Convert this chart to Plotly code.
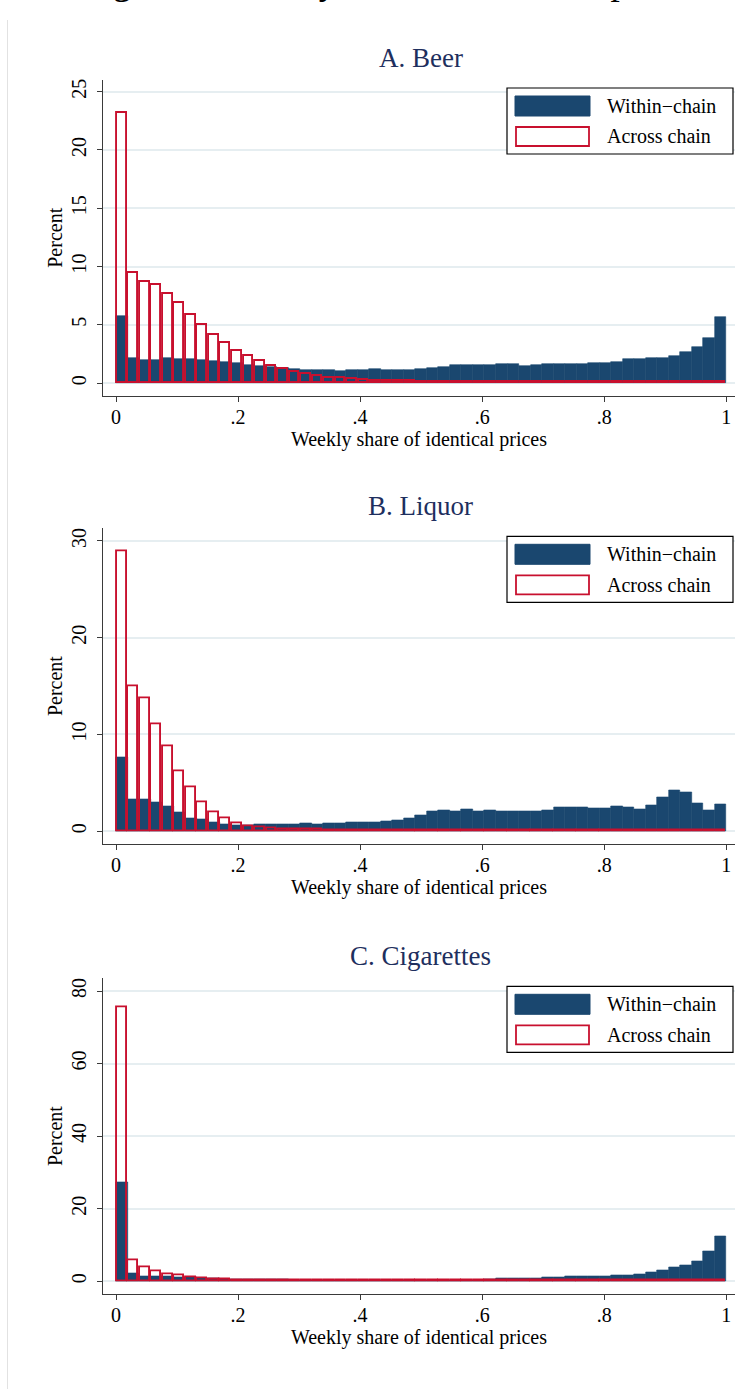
import numpy as np
import plotly.graph_objects as go

# ---------------- data (percent of store pairs per bin, 53 bins on [0,1]) ----------------
NBINS = 53

beer_within = [5.72, 2.17, 2.00, 2.00, 2.17, 2.10, 2.08, 2.00, 1.92, 1.83,
               1.74, 1.58, 1.48, 1.40, 1.32, 1.24, 1.16, 1.12, 1.10, 1.05,
               1.10, 1.12, 1.18, 1.12, 1.16, 1.10, 1.19, 1.28, 1.37, 1.52,
               1.54, 1.54, 1.54, 1.62, 1.63, 1.45, 1.54, 1.62, 1.63, 1.63,
               1.65, 1.72, 1.72, 1.80, 2.05, 2.06, 2.15, 2.16, 2.33, 2.67,
               3.10, 3.90, 5.64]
beer_across = [23.17, 9.48, 8.65, 8.43, 7.65, 6.90, 5.84, 4.95, 4.10, 3.45,
               2.80, 2.35, 1.87, 1.50, 1.20, 0.95, 0.75, 0.60, 0.48, 0.40,
               0.32, 0.26, 0.22, 0.19, 0.17, 0.15, 0.14, 0.14, 0.13, 0.13,
               0.13, 0.12, 0.12, 0.12, 0.12, 0.12, 0.12, 0.11, 0.11, 0.11,
               0.11, 0.11, 0.11, 0.11, 0.11, 0.10, 0.10, 0.10, 0.10, 0.10,
               0.10, 0.10, 0.12]

liquor_within = [7.60, 3.27, 3.27, 3.03, 2.55, 1.93, 1.34, 1.20, 0.90, 0.69,
                 0.62, 0.60, 0.69, 0.69, 0.70, 0.70, 0.79, 0.76, 0.83, 0.80,
                 0.95, 0.96, 0.97, 1.03, 1.14, 1.31, 1.62, 2.03, 2.13, 2.06,
                 2.24, 2.06, 2.13, 2.03, 2.03, 2.05, 2.10, 2.20, 2.44, 2.48,
                 2.44, 2.34, 2.34, 2.55, 2.44, 2.27, 2.65, 3.47, 4.23, 4.00,
                 2.89, 2.20, 2.75]
liquor_across = [28.90, 14.93, 13.69, 11.08, 8.81, 6.19, 4.51, 2.99, 2.00, 1.34,
                 0.86, 0.55, 0.42, 0.32, 0.25, 0.20, 0.17, 0.15, 0.12, 0.11,
                 0.10, 0.10, 0.09, 0.09, 0.09, 0.08, 0.08, 0.08, 0.08, 0.08,
                 0.08, 0.07, 0.07, 0.07, 0.07, 0.07, 0.07, 0.07, 0.07, 0.07,
                 0.07, 0.07, 0.07, 0.07, 0.07, 0.07, 0.07, 0.07, 0.07, 0.07,
                 0.07, 0.07, 0.08]

cig_within = [27.20, 2.10, 1.47, 1.28, 1.28, 1.10, 1.05, 0.80, 0.70, 0.65,
              0.62, 0.62, 0.60, 0.60, 0.40, 0.32, 0.30, 0.30, 0.30, 0.30,
              0.30, 0.30, 0.30, 0.30, 0.30, 0.30, 0.30, 0.30, 0.30, 0.30,
              0.30, 0.30, 0.50, 0.73, 0.73, 0.75, 0.80, 1.00, 1.00, 1.28,
              1.28, 1.28, 1.40, 1.56, 1.56, 1.83, 2.39, 2.94, 3.76, 4.31,
              5.41, 8.17, 12.30]
cig_across = [75.50, 5.70, 3.76, 2.84, 2.00, 1.56, 1.20, 0.75, 0.55, 0.45,
              0.38, 0.32, 0.28, 0.25, 0.22, 0.15, 0.15, 0.14, 0.14, 0.13,
              0.13, 0.13, 0.12, 0.12, 0.12, 0.12, 0.12, 0.12, 0.12, 0.12,
              0.12, 0.12, 0.12, 0.12, 0.12, 0.12, 0.12, 0.12, 0.12, 0.12,
              0.12, 0.12, 0.12, 0.12, 0.12, 0.12, 0.12, 0.12, 0.12, 0.12,
              0.12, 0.12, 0.15]

panel_titles = ["A. Beer", "B. Liquor", "C. Cigarettes"]
series_names = ["Within\u2212chain", "Across chain"]
x_tick_vals = [0, 0.2, 0.4, 0.6, 0.8, 1]
x_tick_text = ["0", ".2", ".4", ".6", ".8", "1"]
y_tick_vals = [[0, 5, 10, 15, 20, 25], [0, 10, 20, 30], [0, 20, 40, 60, 80]]
x_title = "Weekly share of identical prices"
y_title = "Percent"
top_title = "Figure 1: Weekly share of identical prices"

# ---------------- style / layout ----------------
W, H = 735, 1389
NAVY = "#1a476f"
RED = "#c8102e"
TITLE_C = "#1e2f5e"
AXIS_C = "#3a3a3a"
GRID_C = "#e6eef1"
FONT = "Liberation Serif"

y_ranges = [[-1.06, 26.0], [-1.30, 31.3], [-3.47, 83.5]]
x_range = [-0.0213, 1.0143]
panel_tops = [80.0, 528.3, 978.3]     # px from top
panel_h = 315.5
x_left = 103.0


def px(x):
    return x / W


def py(y):
    return 1 - y / H


edges = np.linspace(0, 1, NBINS + 1)
centers = (edges[:-1] + edges[1:]) / 2
bw = 1.0 / NBINS

fig = go.Figure()
within = [beer_within, liquor_within, cig_within]
across = [beer_across, liquor_across, cig_across]

shapes = []
annotations = []
for i in range(3):
    xa = "x" if i == 0 else f"x{i+1}"
    ya = "y" if i == 0 else f"y{i+1}"
    fig.add_trace(go.Bar(
        x=centers, y=within[i], width=bw, name=series_names[0],
        marker=dict(color=NAVY, line=dict(color=NAVY, width=0.6)),
        xaxis=xa, yaxis=ya, showlegend=False))
    fig.add_trace(go.Bar(
        x=centers, y=across[i], width=bw * 0.85, name=series_names[1],
        marker=dict(color="rgba(0,0,0,0)", line=dict(color=RED, width=1.9)),
        xaxis=xa, yaxis=ya, showlegend=False))

    top = panel_tops[i]
    bottom = top + panel_h
    dom_y = [py(bottom), py(top)]
    xkey = "xaxis" if i == 0 else f"xaxis{i+1}"
    ykey = "yaxis" if i == 0 else f"yaxis{i+1}"
    fig.update_layout(**{
        xkey: dict(
            domain=[px(x_left), 1.0], range=x_range, anchor=ya,
            tickvals=x_tick_vals, ticktext=x_tick_text,
            ticks="outside", ticklen=5, tickwidth=1.2, tickcolor=AXIS_C,
            ticklabelstandoff=-2,
            showline=True, linecolor=AXIS_C, linewidth=1.3,
            showgrid=False, zeroline=False,
            tickfont=dict(family=FONT, size=20, color="black"),
            title=dict(text=x_title, font=dict(family=FONT, size=20, color="black"), standoff=2),
        ),
        ykey: dict(
            domain=dom_y, range=y_ranges[i], anchor=xa,
            tickvals=y_tick_vals[i], tickangle=-90,
            ticks="outside", ticklen=5, tickwidth=1.2, tickcolor=AXIS_C,
            ticklabelstandoff=3,
            showline=True, linecolor=AXIS_C, linewidth=1.3,
            showgrid=True, gridcolor=GRID_C, gridwidth=1.5,
            zeroline=False,
            tickfont=dict(family=FONT, size=20, color="black"),
        ),
    })

    # y-axis title
    annotations.append(dict(
        text=y_title, x=px(55), y=py(top + panel_h / 2), xref="paper", yref="paper",
        xanchor="center", yanchor="middle", textangle=-90, showarrow=False,
        font=dict(family=FONT, size=20, color="black")))

    # panel title
    annotations.append(dict(
        text=panel_titles[i], x=px(421), y=py(top - 22), xref="paper", yref="paper",
        xanchor="center", yanchor="middle", showarrow=False,
        font=dict(family=FONT, size=27, color=TITLE_C)))

    # legend box (drawn like the Stata legend)
    shapes.append(dict(type="rect", xref="paper", yref="paper",
                       x0=px(507), x1=px(733), y0=py(top + 74), y1=py(top + 8),
                       line=dict(color="black", width=1.2), fillcolor="white", layer="above"))
    shapes.append(dict(type="rect", xref="paper", yref="paper",
                       x0=px(515), x1=px(590), y0=py(top + 36), y1=py(top + 16),
                       line=dict(color=NAVY, width=1), fillcolor=NAVY, layer="above"))
    shapes.append(dict(type="rect", xref="paper", yref="paper",
                       x0=px(516), x1=px(589), y0=py(top + 66), y1=py(top + 47),
                       line=dict(color=RED, width=1.8), fillcolor="white", layer="above"))
    for j, off in enumerate([26, 56.5]):
        annotations.append(dict(
            text=series_names[j], x=px(605), y=py(top + off), xref="paper", yref="paper",
            xanchor="left", yanchor="middle", showarrow=False,
            font=dict(family=FONT, size=20, color="black")))

# faint outer frame line on the left
shapes.append(dict(type="line", xref="paper", yref="paper",
                   x0=px(7.5), x1=px(7.5), y0=0, y1=py(20),
                   line=dict(color="#e2e2e2", width=1), layer="below"))

# figure title, cropped at the top edge as in the source image
annotations.append(dict(
    text=top_title, x=px(390), y=py(-18), xref="paper", yref="paper",
    xanchor="center", yanchor="middle", showarrow=False,
    font=dict(family=FONT, size=37, color="black")))

fig.update_layout(
    width=W, height=H,
    margin=dict(l=0, r=0, t=0, b=0),
    paper_bgcolor="white", plot_bgcolor="white",
    barmode="overlay", bargap=0,
    shapes=shapes, annotations=annotations,
    showlegend=False,
)

fig.write_html("out.html",
               config={"displayModeBar": False},
               post_script="document.body.style.margin='0px';document.body.style.overflow='hidden';")
